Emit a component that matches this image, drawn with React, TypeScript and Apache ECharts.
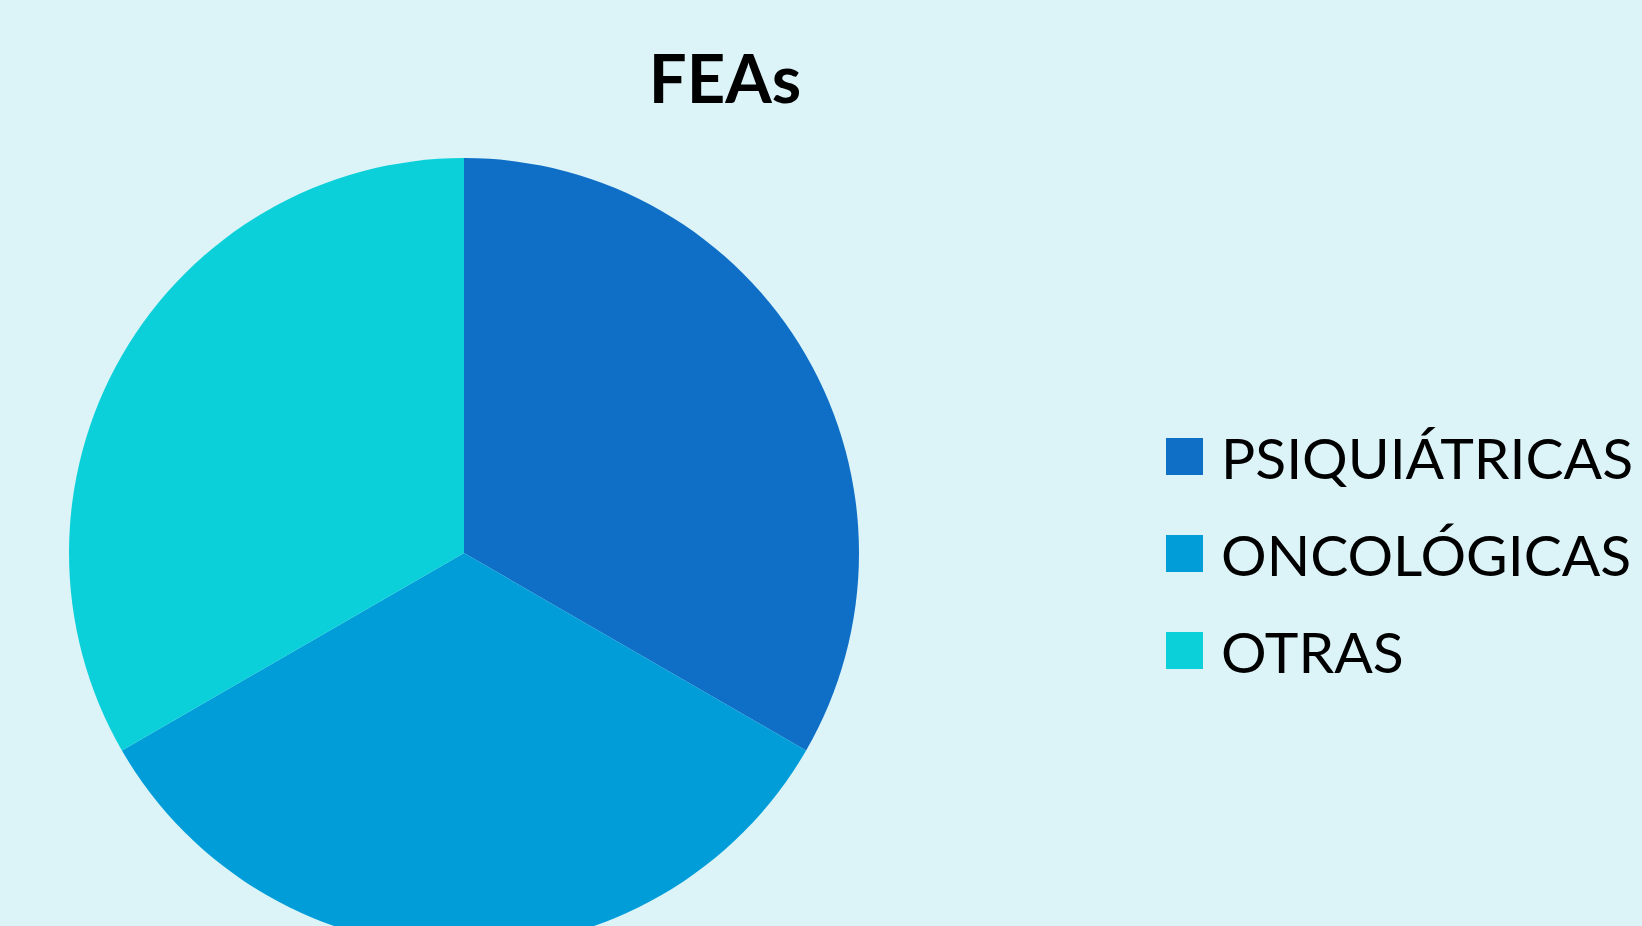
import React, { useEffect, useRef } from "react";
import * as echarts from "echarts";

const title = "FEAs";
const categories = ["PSIQUIÁTRICAS", "ONCOLÓGICAS", "OTRAS"];
const values = [1, 1, 1];
const colors = ["#0F6FC6", "#009DD9", "#0BD0D9"];

export default function App() {
  const ref = useRef<HTMLDivElement>(null);
  useEffect(() => {
    document.body.style.margin = "0";
    const chart = echarts.init(ref.current!, null, { renderer: "svg" });
    chart.setOption({
      animation: false,
      backgroundColor: "#DCF4F8",
      color: colors,
      title: {
        text: title,
        left: 720,
        top: 38,
        textAlign: "center",
        textStyle: {
          fontFamily: "Lato",
          fontWeight: "bold",
          fontSize: 67,
          color: "#000000",
        },
      },
      legend: {
        orient: "vertical",
        left: 1161,
        top: 423,
        itemWidth: 37,
        itemHeight: 37,
        itemGap: 40,
        icon: "rect",
        selectedMode: false,
        textStyle: {
          fontFamily: "Lato",
          fontSize: 57,
          color: "#000000",
          padding: [0, 0, 0, 13],
        },
        data: categories,
      },
      series: [
        {
          type: "pie",
          center: [464, 553],
          radius: [0, 395],
          startAngle: 90,
          clockwise: true,
          label: { show: false },
          labelLine: { show: false },
          emphasis: { disabled: true },
          itemStyle: { borderWidth: 0 },
          data: categories.map((c, i) => ({ name: c, value: values[i] })),
        },
      ],
    });
    return () => chart.dispose();
  }, []);
  return (
    <div
      ref={ref}
      style={{ position: "fixed", left: 0, top: 0, width: 1642, height: 926 }}
    />
  );
}
